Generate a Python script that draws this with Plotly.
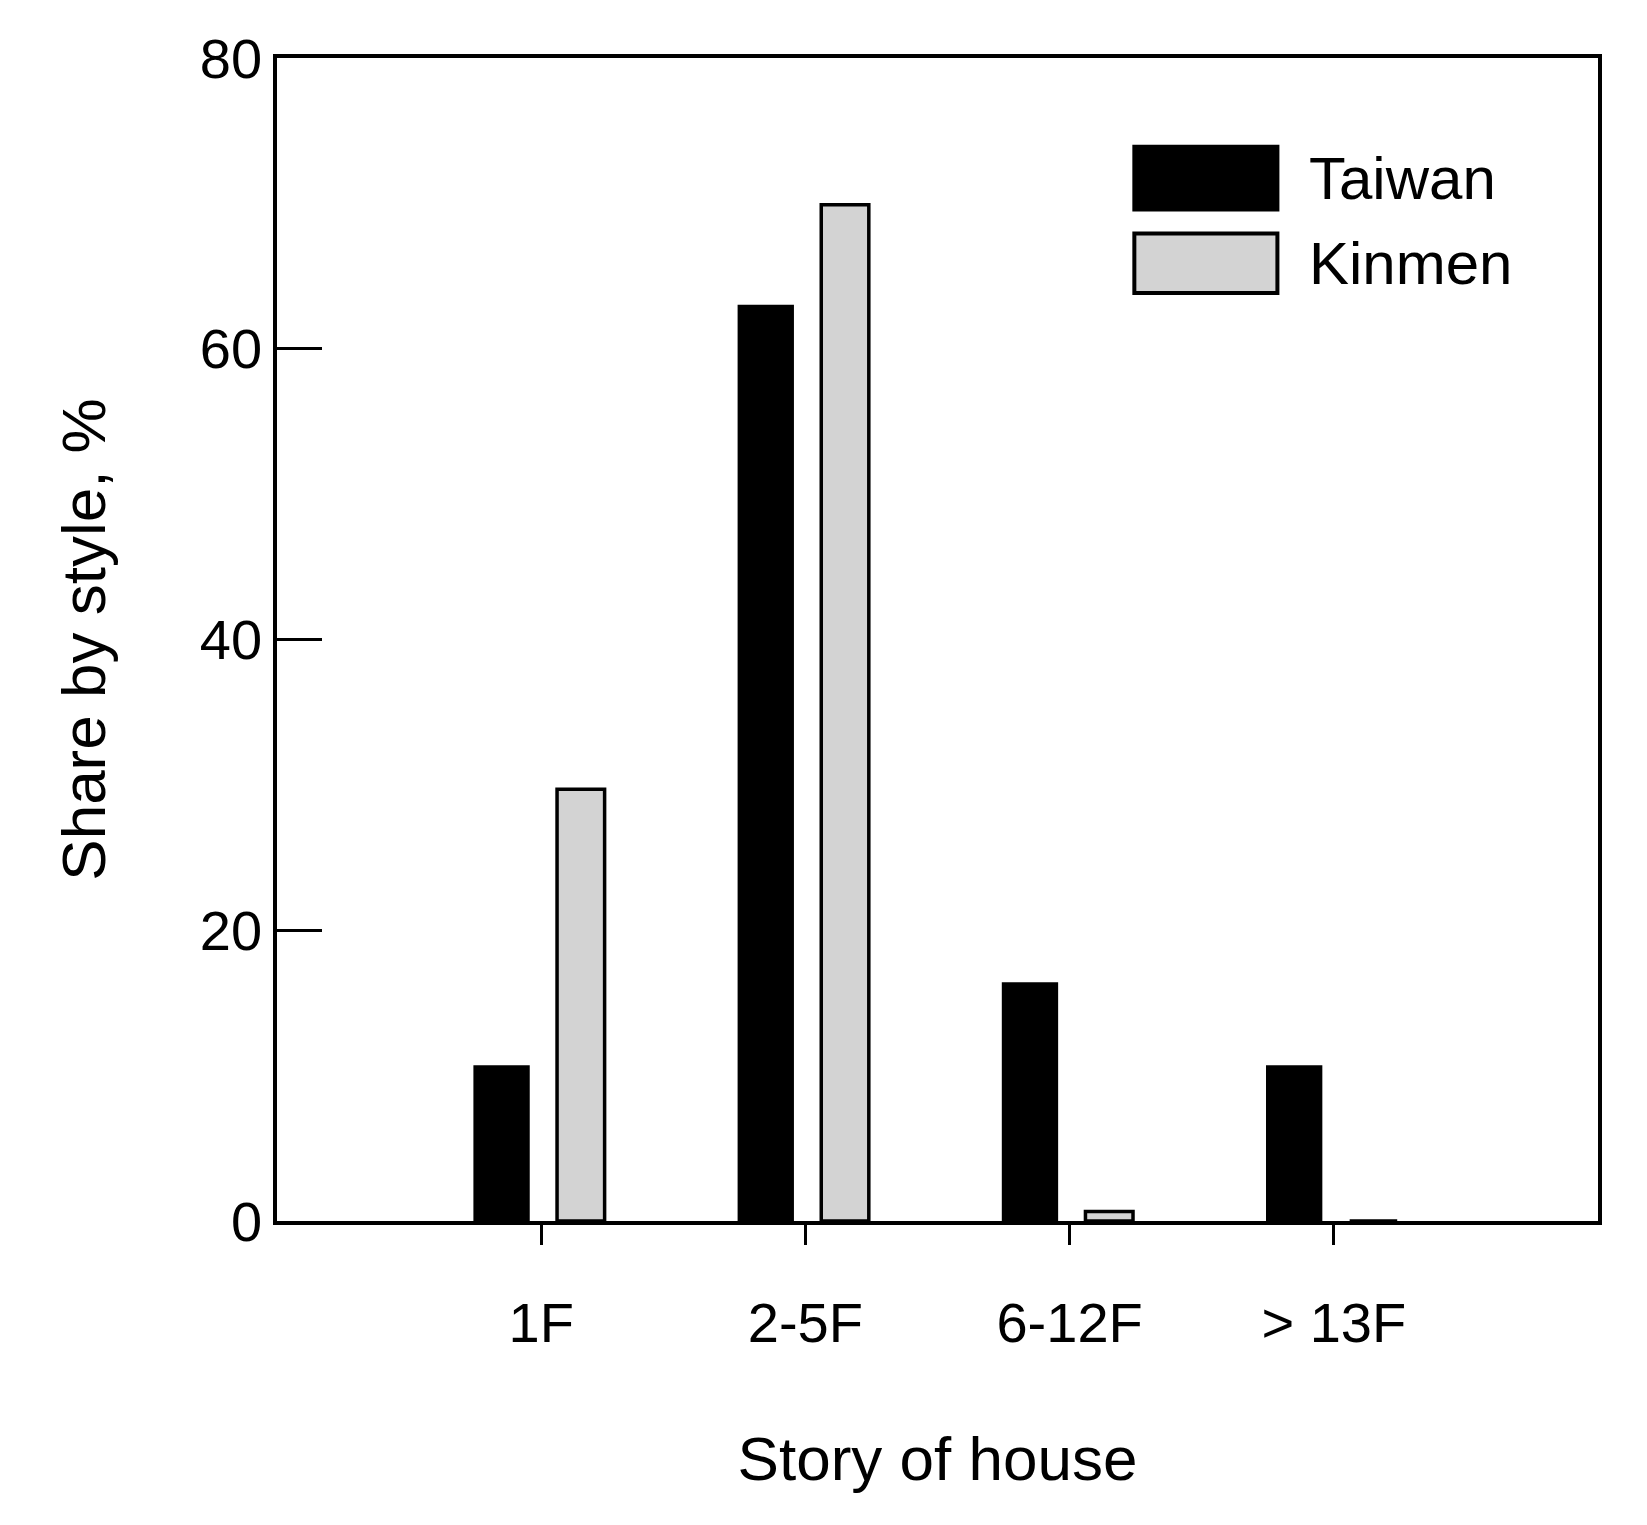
import plotly.graph_objects as go

categories = ["1F", "2-5F", "6-12F", "> 13F"]
taiwan = [10.6, 62.9, 16.3, 10.6]
kinmen = [29.7, 69.9, 0.65, 0]
xpos = list(range(len(categories)))

S = 1 / 0.957
DL, DR, DT, DB = 257, 1522, 48, 1161
W, H = 1647, 1525
L, R, T, B = round(DL * S), round(DR * S), round(DT * S), round(DB * S)
def px(x): return (x - DL) / (DR - DL)
def py(y): return (DB - y) / (DB - DT)

fig = go.Figure()
fig.add_bar(x=xpos, y=taiwan, width=0.2, offset=-0.25, marker=dict(color="black", line=dict(color="black", width=3.5)), name="Taiwan")
fig.add_bar(x=xpos, y=kinmen, width=0.18, offset=0.06, marker=dict(color="#d3d3d3", line=dict(color="black", width=3.5)), name="Kinmen")

shapes = []
annots = []
for (y0, y1, col, name) in [(133, 193, "black", "Taiwan"), (216, 273, "#d3d3d3", "Kinmen")]:
    shapes.append(dict(type="rect", xref="paper", yref="paper", x0=px(1078), x1=px(1215), y0=py(y1), y1=py(y0),
                       fillcolor=col, line=dict(color="black", width=4)))
    annots.append(dict(xref="paper", yref="paper", x=px(1243), y=py((y0 + y1) / 2), text=name, showarrow=False,
                       xanchor="left", yanchor="middle", font=dict(size=60, color="black")))

fig.update_layout(
    width=W, height=H, showlegend=False, plot_bgcolor="white", paper_bgcolor="white",
    margin=dict(l=L, r=W - R, t=T, b=H - B),
    font=dict(family="Liberation Sans, Arial", color="black", size=56),
    shapes=shapes, annotations=annots,
    xaxis=dict(range=[-1, 4], tickvals=xpos, ticktext=categories, showgrid=False, zeroline=False,
               showline=True, linecolor="black", linewidth=3.5, mirror=True, ticks="outside", ticklen=20,
               tickwidth=2.5, tickcolor="black", tickfont=dict(size=56), ticklabelstandoff=30,
               title=dict(text="Story of house", font=dict(size=62), standoff=85)),
    yaxis=dict(range=[0, 80], tickvals=[0, 20, 40, 60, 80], showgrid=False, zeroline=False,
               showline=True, linecolor="black", linewidth=3.5, mirror=True, ticks="inside", ticklen=45,
               tickwidth=2.5, tickcolor="black", tickfont=dict(size=56),
               title=dict(text="Share by style, %", font=dict(size=62), standoff=75)),
)
fig.write_html("out.html")
